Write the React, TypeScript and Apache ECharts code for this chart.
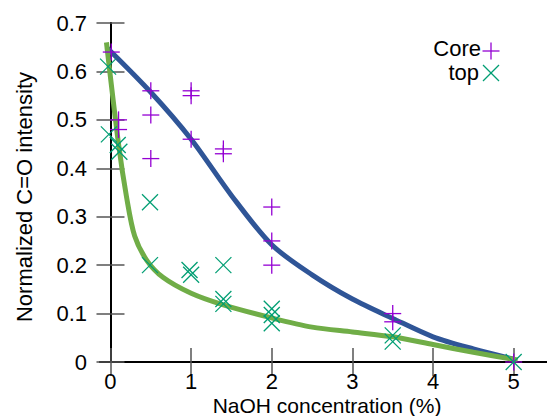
import React, { useEffect, useRef } from "react";
import * as echarts from "echarts";

// Measured data: Core (purple +)
const coreX = [0.01, 0.1, 0.1, 0.5, 0.5, 0.5, 1, 1, 1, 1.4, 1.4, 2, 2, 2, 3.5, 3.5, 5];
const coreY = [0.64, 0.5, 0.48, 0.56, 0.51, 0.42, 0.56, 0.55, 0.46, 0.44, 0.43, 0.32, 0.25, 0.2, 0.1, 0.083, 0.0];

// Measured data: top (green x)
const topX = [-0.03, -0.02, 0.09, 0.11, 0.49, 0.49, 0.98, 1, 1.4, 1.4, 1.4, 2, 2, 2, 3.5, 3.5, 5];
const topY = [0.61, 0.47, 0.448, 0.434, 0.33, 0.2, 0.19, 0.18, 0.2, 0.13, 0.12, 0.11, 0.097, 0.08, 0.055, 0.042, 0.0];

// Fitted curves
const blueX = [-0.05, 0.5, 1, 1.5, 2, 2.5, 3, 3.5, 4, 4.5, 5];
const blueY = [0.65, 0.557, 0.46, 0.344, 0.242, 0.18, 0.13, 0.09, 0.052, 0.027, 0.006];

const greenX = [-0.05, 0.1, 0.2, 0.3, 0.45, 0.65, 1, 1.4, 2, 2.5, 3, 3.5, 4, 4.5, 5.05];
const greenY = [0.66, 0.45, 0.34, 0.26, 0.21, 0.175, 0.142, 0.118, 0.091, 0.072, 0.062, 0.052, 0.036, 0.02, 0.004];

const xTicks = [0, 1, 2, 3, 4, 5];

const FONT = "'Liberation Sans', Arial, Helvetica, sans-serif";
const PURPLE = "#9400d3";
const TEAL = "#009e73";
const BLUE = "#2f5597";
const GREEN = "#70ad47";

function markerShapes(cx: number, cy: number, kind: string, color: string) {
  const lw = 1.3;
  if (kind === "plus") {
    const s = 8.5;
    return [
      { type: "line", shape: { x1: cx - s, y1: cy, x2: cx + s, y2: cy }, style: { stroke: color, lineWidth: lw } },
      { type: "line", shape: { x1: cx, y1: cy - s, x2: cx, y2: cy + s }, style: { stroke: color, lineWidth: lw } },
    ];
  }
  const s = 8;
  return [
    { type: "line", shape: { x1: cx - s, y1: cy - s, x2: cx + s, y2: cy + s }, style: { stroke: color, lineWidth: lw } },
    { type: "line", shape: { x1: cx - s, y1: cy + s, x2: cx + s, y2: cy - s }, style: { stroke: color, lineWidth: lw } },
  ];
}

function markerSeries(name: string, xs: number[], ys: number[], kind: string, color: string) {
  return {
    type: "custom",
    name,
    coordinateSystem: "cartesian2d",
    xAxisIndex: 0,
    yAxisIndex: 0,
    clip: false,
    z: 5,
    data: xs.map((x, i) => [x, ys[i]]),
    renderItem: (params: any, api: any) => {
      const p = api.coord([api.value(0), api.value(1)]);
      return { type: "group", children: markerShapes(p[0], p[1], kind, color) };
    },
  };
}

export default function App() {
  const ref = useRef<HTMLDivElement>(null);
  useEffect(() => {
    if (!ref.current) return;
    const chart = echarts.init(ref.current, undefined, { renderer: "svg" });
    const axisLine = { show: true, lineStyle: { color: "#000", width: 2 } };
    const tickStyle = { color: "#555", width: 1.5 };
    chart.setOption({
      animation: false,
      backgroundColor: "#fff",
      grid: { left: 100, top: 23, right: 6, bottom: 54, containLabel: false },
      xAxis: [
        {
          type: "value",
          position: "bottom",
          min: -0.13,
          max: 5.5,
          axisLine,
          splitLine: { show: false },
          axisTick: { show: true, inside: true, length: 14, lineStyle: tickStyle, customValues: xTicks },
          axisLabel: {
            show: true,
            customValues: xTicks,
            margin: 10,
            color: "#000",
            fontSize: 22,
            lineHeight: 18,
            fontFamily: FONT,
            formatter: (v: number) => String(Math.round(v)),
          },
        },
        {
          type: "value",
          position: "top",
          min: -0.13,
          max: 5.5,
          axisLine,
          splitLine: { show: false },
          axisTick: { show: true, inside: true, length: 14, lineStyle: tickStyle, customValues: xTicks },
          axisLabel: { show: false },
        },
      ],
      yAxis: [
        {
          type: "value",
          position: "left",
          min: 0,
          max: 0.7,
          interval: 0.1,
          axisLine,
          splitLine: { show: false },
          axisTick: { show: true, inside: true, length: 14, lineStyle: tickStyle },
          axisLabel: {
            margin: 13,
            color: "#000",
            fontSize: 22,
            fontFamily: FONT,
            formatter: (v: number) => (Math.abs(v) < 1e-9 ? "0" : v.toFixed(1)),
          },
        },
        {
          type: "value",
          position: "right",
          min: 0,
          max: 0.7,
          interval: 0.1,
          axisLine,
          splitLine: { show: false },
          axisTick: { show: true, inside: true, length: 14, lineStyle: tickStyle },
          axisLabel: { show: false },
        },
      ],
      series: [
        {
          type: "line",
          name: "fitCore",
          data: blueX.map((x, i) => [x, blueY[i]]),
          smooth: 0.3,
          showSymbol: false,
          symbol: "none",
          lineStyle: { color: BLUE, width: 5 },
          z: 3,
        },
        {
          type: "line",
          name: "fitTop",
          data: greenX.map((x, i) => [x, greenY[i]]),
          smooth: 0.3,
          showSymbol: false,
          symbol: "none",
          lineStyle: { color: GREEN, width: 5 },
          z: 3,
        },
        markerSeries("Core", coreX, coreY, "plus", PURPLE),
        markerSeries("top", topX, topY, "cross", TEAL),
      ],
      graphic: [
        {
          type: "text",
          x: 24,
          y: 197,
          rotation: Math.PI / 2,
          style: {
            text: "Normalized C=O intensity",
            font: `22px ${FONT}`,
            fill: "#000",
            textAlign: "center",
            textVerticalAlign: "middle",
          },
        },
        {
          type: "text",
          x: 327,
          y: 405,
          style: {
            text: "NaOH concentration (%)",
            font: `21px ${FONT}`,
            lineHeight: 18,
            fill: "#000",
            textAlign: "center",
            textVerticalAlign: "middle",
          },
        },
        {
          type: "text",
          x: 481,
          y: 48,
          style: { text: "Core", font: `22px ${FONT}`, lineHeight: 19, fill: "#000", textAlign: "right", textVerticalAlign: "middle" },
        },
        {
          type: "text",
          x: 479,
          y: 72,
          style: { text: "top", font: `22px ${FONT}`, lineHeight: 19, fill: "#000", textAlign: "right", textVerticalAlign: "middle" },
        },
        { type: "group", children: markerShapes(491, 51, "plus", PURPLE) },
        { type: "group", children: markerShapes(491, 73, "cross", TEAL) },
      ],
    });
    return () => chart.dispose();
  }, []);
  return (
    <div style={{ position: "absolute", left: 0, top: 0, width: 547, height: 416, overflow: "hidden", background: "#fff" }}>
      <div ref={ref} style={{ width: 560, height: 416 }} />
    </div>
  );
}
